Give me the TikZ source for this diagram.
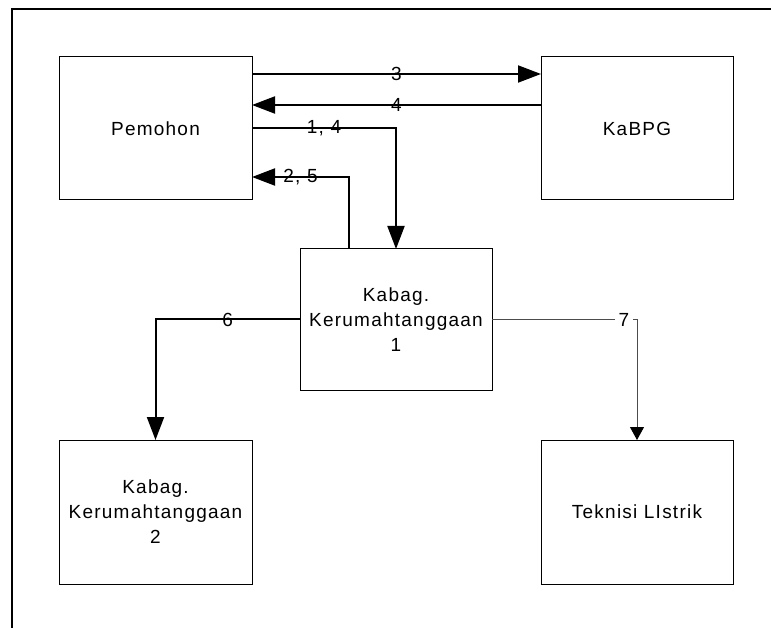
\documentclass[tikz,border=0pt]{standalone}
\usepackage{fontspec}
\setmainfont{Liberation Sans}[LetterSpace=6.5]
\usetikzlibrary{arrows.meta}
\begin{document}
\begin{tikzpicture}[x=1pt,y=-1pt,
  every node/.style={font=\fontsize{19}{25}\selectfont},
  unit/.style={draw,line width=1pt,inner sep=0pt,outer sep=0pt,align=center},
  flow/.style={line width=2pt,-{Triangle[length=23pt,width=17pt]}},
  thinflow/.style={line width=1pt,draw=black!70,-{Triangle[length=13pt,width=14pt,fill=black,color=black]}},
  lbl/.style={inner sep=1pt}]
\useasboundingbox (0,0) rectangle (771,628);
% page frame (top and left edges)
\draw[line width=2pt] (771,9) -- (12,9) -- (12,628);
% units
\node[unit,minimum width=193pt,minimum height=143pt] (pem) at (155.5,128.5) {Pemohon};
\node[unit,minimum width=192pt,minimum height=143pt] (kbpg) at (637,128.5) {KaBPG};
\node[unit,minimum width=192pt,minimum height=141pt] (k1) at (396,319.5) {Kabag.\\Kerumahtanggaan\\1};
\node[unit,minimum width=193pt,minimum height=144pt] (k2) at (155.5,512) {Kabag.\\Kerumahtanggaan\\2};
\node[unit,minimum width=192pt,minimum height=144pt] (tek) at (637,512) {Teknisi LIstrik};
% flows
\draw[flow] ([yshift=-17pt]pem.north east) -- node[lbl] {3} ([yshift=-17pt]kbpg.north west);
\draw[flow] ([yshift=-48pt]kbpg.north west) -- node[lbl] {4} ([yshift=-48pt]pem.north east);
\draw[flow] (pem.east) -| node[lbl,pos=0.25] {1, 4} (k1.north);
\draw[flow] ([xshift=-47pt]k1.north) |- node[lbl,pos=0.75] {2, 5} ([yshift=23pt]pem.south east);
\draw[flow] (k1.west) -| node[lbl,pos=0.25] {6} (k2.north);
\draw[thinflow] (k1.east) -| node[lbl,pos=0.455,fill=white,inner xsep=4pt] {7} (tek.north);
\end{tikzpicture}
\end{document}
